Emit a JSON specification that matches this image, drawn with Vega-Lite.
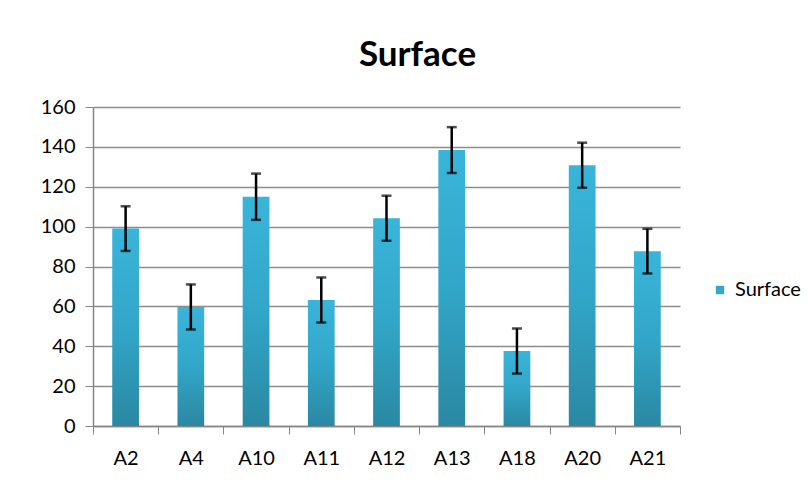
{
  "$schema": "https://vega.github.io/schema/vega-lite/v6.json",
  "width": 587,
  "height": 319,
  "autosize": "none",
  "padding": {"left": 93, "top": 107, "right": 128, "bottom": 66},
  "background": "white",
  "title": {
    "text": "Surface",
    "font": "Lato",
    "fontSize": 35,
    "fontWeight": "bold",
    "color": "#000000",
    "anchor": "middle",
    "dx": 31,
    "offset": 24
  },
  "config": {
    "view": {"stroke": null},
    "axis": {
      "labelFont": "Lato",
      "labelFontSize": 20,
      "labelColor": "#000000",
      "domainColor": "#868686",
      "tickColor": "#868686",
      "gridColor": "#8c8c8c",
      "titleFont": "Lato"
    },
    "legend": {"labelFont": "Lato"}
  },
  "data": {
    "values": [
      {"sample": "A2", "value": 99, "err": 11.2, "series": "Surface"},
      {"sample": "A4", "value": 59.7, "err": 11.3, "series": "Surface"},
      {"sample": "A10", "value": 115, "err": 11.6, "series": "Surface"},
      {"sample": "A11", "value": 63.2, "err": 11.3, "series": "Surface"},
      {"sample": "A12", "value": 104.2, "err": 11.3, "series": "Surface"},
      {"sample": "A13", "value": 138.4, "err": 11.5, "series": "Surface"},
      {"sample": "A18", "value": 37.6, "err": 11.3, "series": "Surface"},
      {"sample": "A20", "value": 130.8, "err": 11.3, "series": "Surface"},
      {"sample": "A21", "value": 87.7, "err": 11.2, "series": "Surface"}
    ]
  },
  "encoding": {
    "x": {
      "field": "sample",
      "type": "nominal",
      "sort": null,
      "title": null,
      "scale": {"paddingInner": 0, "paddingOuter": 0},
      "axis": {
        "labelAngle": 0,
        "tickBand": "extent",
        "tickSize": 8,
        "labelPadding": 14,
        "grid": false,
        "domainWidth": 1.5
      }
    },
    "y": {
      "field": "value",
      "type": "quantitative",
      "title": null,
      "scale": {"domain": [0, 160], "nice": false},
      "axis": {
        "values": [0, 20, 40, 60, 80, 100, 120, 140, 160],
        "labelOverlap": false,
        "tickSize": 8,
        "labelPadding": 10,
        "gridWidth": 1.5,
        "domainWidth": 1.5
      }
    }
  },
  "layer": [
    {
      "mark": {
        "type": "bar",
        "width": {"band": 0.41},
        "color": {
          "gradient": "linear",
          "x1": 0, "y1": 0, "x2": 0, "y2": 1,
          "stops": [
            {"offset": 0, "color": "#39b5da"},
            {"offset": 0.5, "color": "#32a6c8"},
            {"offset": 1, "color": "#2a88a2"}
          ]
        }
      }
    },
    {
      "mark": {"type": "square", "opacity": 0},
      "encoding": {
        "color": {
          "field": "series",
          "type": "nominal",
          "title": null,
          "scale": {"range": ["#33a8ca"]},
          "legend": {
            "orient": "none",
            "legendX": 617,
            "legendY": 173,
            "symbolType": "square",
            "symbolSize": 70,
            "symbolOpacity": 1,
            "symbolStrokeWidth": 0,
            "labelFontSize": 20,
            "labelColor": "#000000",
            "labelOffset": 5,
            "padding": 0
          }
        }
      }
    },
    {
      "mark": {
        "type": "errorbar",
        "ticks": {"size": 10, "color": "#000000", "thickness": 2.5},
        "rule": {"color": "#000000", "strokeWidth": 2.5}
      },
      "encoding": {
        "yError": {"field": "err"}
      }
    }
  ]
}
